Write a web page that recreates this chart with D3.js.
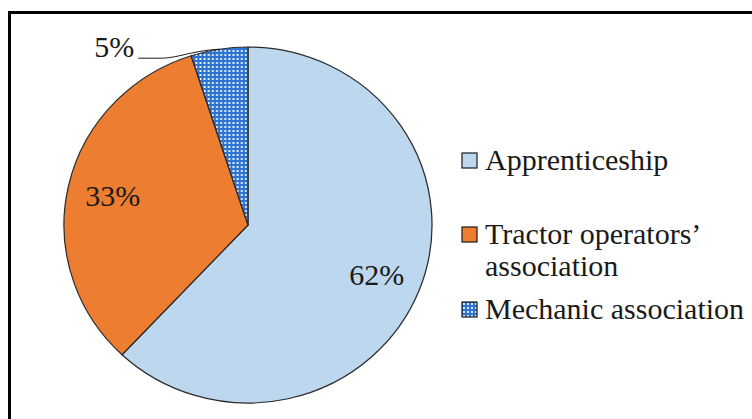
<!DOCTYPE html>
<html>
<head>
<meta charset="utf-8">
<script src="https://cdn.jsdelivr.net/npm/d3@7"></script>
<style>
  body { margin: 0; background: #fff; }
  svg text { font-family: "Liberation Serif"; fill: #1a1a1a; }
</style>
</head>
<body>
<div id="chart"></div>
<script>
// data
var categories = ["Apprenticeship", "Tractor operators\u2019 association", "Mechanic association"];
var shares = [62, 33, 5];
var legendLines = [["Apprenticeship"], ["Tractor operators\u2019", "association"], ["Mechanic association"]];
var colors = ["#bdd7ee", "#ed7d31", "url(#dots)"];

var width = 752, height = 419;
var cx = 248, cy = 225, r = 178, stretch = 184 / 178;

var svg = d3.select("#chart").append("svg")
    .attr("width", width)
    .attr("height", height);

// dotted blue fill for the small slice
var pat = svg.append("defs").append("pattern")
    .attr("id", "dots")
    .attr("patternUnits", "userSpaceOnUse")
    .attr("width", 4).attr("height", 4);
pat.append("rect").attr("width", 4).attr("height", 4).attr("fill", "#2c74cf");
pat.append("circle").attr("cx", 2).attr("cy", 2).attr("r", 1.1).attr("fill", "#fff");

// frame (runs off the right and bottom edges)
svg.append("rect")
    .attr("x", 9.5).attr("y", 12.5)
    .attr("width", 800).attr("height", 500)
    .attr("fill", "none")
    .attr("stroke", "#000")
    .attr("stroke-width", 3);

var pie = d3.pie().sort(null).value(function(d) { return d; });
var arcs = pie(shares);

var arc = d3.arc().innerRadius(0).outerRadius(r);
var labelArc = d3.arc().innerRadius(134).outerRadius(134);
var edgeArc = d3.arc().innerRadius(r).outerRadius(r);

var g = svg.append("g")
    .attr("transform", "translate(" + cx + "," + cy + ") scale(" + stretch + ",1)");

g.selectAll("path.slice")
    .data(arcs)
  .enter().append("path")
    .attr("class", "slice")
    .attr("d", arc)
    .attr("fill", function(d, i) { return colors[i]; })
    .attr("stroke", "#2b2b2b")
    .attr("stroke-width", 1.2)
    .attr("stroke-linejoin", "round");

// inside labels for the two big slices
svg.selectAll("text.pct")
    .data(arcs.slice(0, 2))
  .enter().append("text")
    .attr("class", "pct")
    .attr("x", function(d) { return cx + labelArc.centroid(d)[0] * stretch; })
    .attr("y", function(d) { return cy + labelArc.centroid(d)[1]; })
    .attr("dy", "0.35em")
    .attr("text-anchor", "middle")
    .style("font-size", "30px")
    .text(function(d) { return d.data + "%"; });

// small slice: label outside with a leader line
var small = arcs[2];
var edge = edgeArc.centroid(small);
var ex = cx + edge[0] * stretch, ey = cy + edge[1];
var lx = ex - 81, ly = ey + 9;
svg.append("path")
    .attr("d", "M" + ex + "," + ey + " C" + (ex - 30) + "," + (ey + 2) + " " + (lx + 40) + "," + ly + " " + (lx + 22) + "," + ly + " L" + lx + "," + ly)
    .attr("fill", "none")
    .attr("stroke", "#1a1a1a")
    .attr("stroke-width", 1);
svg.append("text")
    .attr("x", lx - 4)
    .attr("y", ly - 1)
    .attr("text-anchor", "end")
    .style("font-size", "30px")
    .text(small.data + "%");

// legend
var legendTop = [153, 227, 302];
var legend = svg.selectAll("g.legend")
    .data(categories)
  .enter().append("g")
    .attr("class", "legend")
    .attr("transform", function(d, i) { return "translate(462," + legendTop[i] + ")"; });

legend.append("rect")
    .attr("width", 15).attr("height", 15)
    .attr("fill", function(d, i) { return colors[i]; })
    .attr("stroke", "#1a1a1a")
    .attr("stroke-width", 1.2);

legend.append("text")
    .attr("x", 23)
    .attr("y", 17)
    .style("font-size", "30px")
    .selectAll("tspan")
    .data(function(d, i) { return legendLines[i]; })
  .enter().append("tspan")
    .attr("x", 23)
    .attr("dy", function(d, j) { return j === 0 ? 0 : 32; })
    .text(function(d) { return d; });
</script>
</body>
</html>
